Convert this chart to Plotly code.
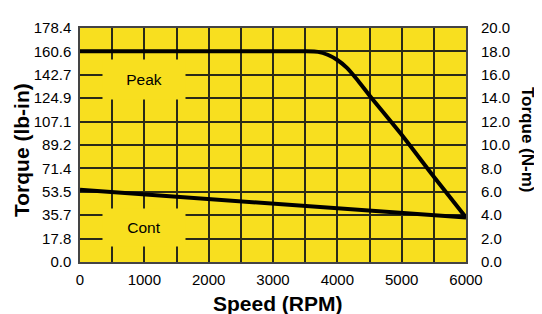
import plotly.graph_objects as go

speed_peak = [0, 3500, 3700, 3850, 4000, 4150, 4300, 4500, 5000, 5500, 6000]
torque_peak = [160.6, 160.6, 160.2, 158.0, 154.0, 148.0, 139.5, 127.0, 97.0, 65.0, 34.0]
speed_cont = [0, 2000, 4000, 6000]
torque_cont = [55.0, 48.0, 40.5, 34.0]

left_ticks = [0, 17.84, 35.68, 53.52, 71.36, 89.2, 107.04, 124.88, 142.72, 160.56, 178.4]
left_labels = ["0.0", "17.8", "35.7", "53.5", "71.4", "89.2", "107.1", "124.9", "142.7", "160.6", "178.4"]
right_ticks = [0, 2, 4, 6, 8, 10, 12, 14, 16, 18, 20]
right_labels = ["0.0", "2.0", "4.0", "6.0", "8.0", "10.0", "12.0", "14.0", "16.0", "18.0", "20.0"]

YELLOW = "#F8DF1F"
GRID = "#2a2a18"
FONT = "Liberation Sans"

fig = go.Figure()
fig.add_trace(go.Scatter(x=speed_peak, y=torque_peak, mode="lines",
                         line=dict(color="black", width=4, shape="spline", smoothing=0.5),
                         showlegend=False, hoverinfo="skip"))
fig.add_trace(go.Scatter(x=speed_cont, y=torque_cont, mode="lines",
                         line=dict(color="black", width=4),
                         showlegend=False, hoverinfo="skip"))
fig.add_trace(go.Scatter(x=[0, 6000], y=[0, 20], yaxis="y2", mode="markers",
                         marker=dict(opacity=0), showlegend=False, hoverinfo="skip"))

fig.update_layout(
    width=534, height=306,
    margin=dict(l=72, r=76, t=20, b=52),
    paper_bgcolor="white", plot_bgcolor=YELLOW,
    font=dict(family=FONT, size=15, color="black"),
    xaxis=dict(range=[0, 6000], tickvals=[0, 1000, 2000, 3000, 4000, 5000, 6000],
               showgrid=True, gridcolor=GRID, gridwidth=1.5,
               minor=dict(dtick=500, tick0=0, showgrid=True, gridcolor=GRID, gridwidth=1.5),
               showline=True, linecolor="#444", linewidth=1.5, mirror=True,
               ticks="outside", ticklen=3, tickcolor="rgba(0,0,0,0)", zeroline=False,
               automargin=False),
    yaxis=dict(range=[0, 178.4], tickvals=left_ticks, ticktext=left_labels,
               showgrid=True, gridcolor=GRID, gridwidth=1.5,
               showline=True, linecolor="#444", linewidth=1.5, mirror=True,
               zeroline=False, ticks="outside", ticklen=4, tickcolor="rgba(0,0,0,0)",
               automargin=False),
    yaxis2=dict(range=[0, 20], tickvals=right_ticks, ticktext=right_labels,
                overlaying="y", side="right", showgrid=False, zeroline=False,
                ticks="outside", ticklen=11, tickcolor="rgba(0,0,0,0)", automargin=False),
)

fig.add_annotation(x=1000, y=139.5, text="Peak", showarrow=False,
                   bgcolor=YELLOW, width=80, height=37, font=dict(size=15.5))
fig.add_annotation(x=1000, y=26.3, text="Cont", showarrow=False,
                   bgcolor=YELLOW, width=80, height=35, font=dict(size=15.5))
# axis titles
fig.add_annotation(x=0, xref="paper", xshift=-59, xanchor="center",
                   y=0.5, yref="paper", yshift=-5, yanchor="middle",
                   text="<b>Torque (lb-in)</b>", textangle=-90, showarrow=False,
                   font=dict(size=21))
fig.add_annotation(x=0.5, xref="paper", xshift=5, xanchor="center",
                   y=0, yref="paper", yshift=-41, yanchor="middle",
                   text="<b>Speed (RPM)</b>", showarrow=False,
                   font=dict(size=21))
fig.add_annotation(x=1.0, xref="paper", xshift=62, xanchor="center",
                   y=0.5, yref="paper", yshift=6, yanchor="middle",
                   text="<b>Torque (N-m)</b>", textangle=90, showarrow=False,
                   font=dict(size=17))

fig.write_html("out.html")
